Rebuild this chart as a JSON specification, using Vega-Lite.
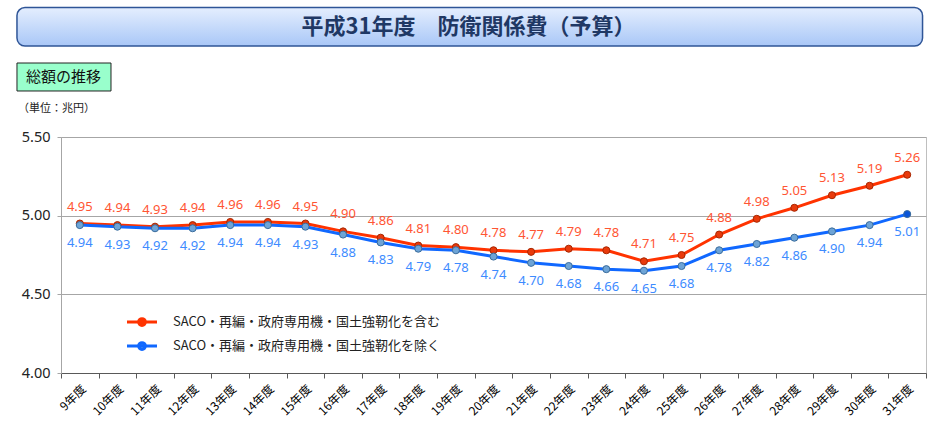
{
  "$schema": "https://vega.github.io/schema/vega-lite/v6.json",
  "padding": {"left": 16, "top": 0, "right": 5, "bottom": 0},
  "spacing": 0,
  "config": {"font": "Noto Sans CJK JP", "view": {"stroke": null}},
  "vconcat": [
    {
      "width": 865,
      "height": 128,
      "view": {"stroke": null},
      "layer": [
        {
          "data": {"values": [{"x0": -5.09, "x1": 99.6, "y0": 5.86, "y1": 35.94}]},
          "mark": {
            "type": "rect",
            "cornerRadius": 8,
            "stroke": "#2F5597",
            "strokeWidth": 1.5,
            "fill": {
              "gradient": "linear",
              "x1": 0, "y1": 0, "x2": 0, "y2": 1,
              "stops": [
                {"offset": 0, "color": "#E4EEFE"},
                {"offset": 1, "color": "#A9C7F7"}
              ]
            }
          },
          "encoding": {
            "x": {"field": "x0", "type": "quantitative", "scale": {"domain": [0, 100], "nice": false, "zero": false}, "axis": null},
            "x2": {"field": "x1"},
            "y": {"field": "y0", "type": "quantitative", "scale": {"domain": [0, 100], "reverse": true, "nice": false, "zero": false}, "axis": null},
            "y2": {"field": "y1"}
          }
        },
        {
          "data": {"values": [{"x0": -5.09, "x1": 5.78, "y0": 49.22, "y1": 71.09}]},
          "mark": {"type": "rect", "fill": "#99FFCC", "stroke": "#222222", "strokeWidth": 1},
          "encoding": {
            "x": {"field": "x0", "type": "quantitative", "scale": {"domain": [0, 100], "nice": false, "zero": false}, "axis": null},
            "x2": {"field": "x1"},
            "y": {"field": "y0", "type": "quantitative", "scale": {"domain": [0, 100], "reverse": true, "nice": false, "zero": false}, "axis": null},
            "y2": {"field": "y1"}
          }
        },
        {
          "data": {"values": [{"x": 47.1, "y": 21.1, "label": "平成31年度　防衛関係費（予算）"}]},
          "mark": {"type": "text", "fontSize": 22, "fontWeight": "bold", "color": "#1F3864", "align": "center", "baseline": "middle"},
          "encoding": {
            "x": {"field": "x", "type": "quantitative", "scale": {"domain": [0, 100], "nice": false, "zero": false}, "axis": null},
            "y": {"field": "y", "type": "quantitative", "scale": {"domain": [0, 100], "reverse": true, "nice": false, "zero": false}, "axis": null},
            "text": {"field": "label"}
          }
        },
        {
          "data": {"values": [{"x": 0.3, "y": 60.16, "label": "総額の推移"}]},
          "mark": {"type": "text", "fontSize": 15, "color": "#111111", "align": "center", "baseline": "middle"},
          "encoding": {
            "x": {"field": "x", "type": "quantitative", "scale": {"domain": [0, 100], "nice": false, "zero": false}, "axis": null},
            "y": {"field": "y", "type": "quantitative", "scale": {"domain": [0, 100], "reverse": true, "nice": false, "zero": false}, "axis": null},
            "text": {"field": "label"}
          }
        },
        {
          "data": {"values": [{"x": -4.97, "y": 84.8, "label": "（単位：兆円）"}]},
          "mark": {"type": "text", "fontSize": 11, "color": "#222222", "align": "left", "baseline": "middle"},
          "encoding": {
            "x": {"field": "x", "type": "quantitative", "scale": {"domain": [0, 100], "nice": false, "zero": false}, "axis": null},
            "y": {"field": "y", "type": "quantitative", "scale": {"domain": [0, 100], "reverse": true, "nice": false, "zero": false}, "axis": null},
            "text": {"field": "label"}
          }
        }
      ]
    },
    {
      "width": 865,
      "height": 236,
      "view": {"stroke": "#BFBFBF", "strokeWidth": 1},
      "data": {
        "values": [
          {"year": "9年度", "series": "SACO・再編・政府専用機・国土強靭化を含む", "value": 4.95},
          {"year": "10年度", "series": "SACO・再編・政府専用機・国土強靭化を含む", "value": 4.94},
          {"year": "11年度", "series": "SACO・再編・政府専用機・国土強靭化を含む", "value": 4.93},
          {"year": "12年度", "series": "SACO・再編・政府専用機・国土強靭化を含む", "value": 4.94},
          {"year": "13年度", "series": "SACO・再編・政府専用機・国土強靭化を含む", "value": 4.96},
          {"year": "14年度", "series": "SACO・再編・政府専用機・国土強靭化を含む", "value": 4.96},
          {"year": "15年度", "series": "SACO・再編・政府専用機・国土強靭化を含む", "value": 4.95},
          {"year": "16年度", "series": "SACO・再編・政府専用機・国土強靭化を含む", "value": 4.90},
          {"year": "17年度", "series": "SACO・再編・政府専用機・国土強靭化を含む", "value": 4.86},
          {"year": "18年度", "series": "SACO・再編・政府専用機・国土強靭化を含む", "value": 4.81},
          {"year": "19年度", "series": "SACO・再編・政府専用機・国土強靭化を含む", "value": 4.80},
          {"year": "20年度", "series": "SACO・再編・政府専用機・国土強靭化を含む", "value": 4.78},
          {"year": "21年度", "series": "SACO・再編・政府専用機・国土強靭化を含む", "value": 4.77},
          {"year": "22年度", "series": "SACO・再編・政府専用機・国土強靭化を含む", "value": 4.79},
          {"year": "23年度", "series": "SACO・再編・政府専用機・国土強靭化を含む", "value": 4.78},
          {"year": "24年度", "series": "SACO・再編・政府専用機・国土強靭化を含む", "value": 4.71},
          {"year": "25年度", "series": "SACO・再編・政府専用機・国土強靭化を含む", "value": 4.75},
          {"year": "26年度", "series": "SACO・再編・政府専用機・国土強靭化を含む", "value": 4.88},
          {"year": "27年度", "series": "SACO・再編・政府専用機・国土強靭化を含む", "value": 4.98},
          {"year": "28年度", "series": "SACO・再編・政府専用機・国土強靭化を含む", "value": 5.05},
          {"year": "29年度", "series": "SACO・再編・政府専用機・国土強靭化を含む", "value": 5.13},
          {"year": "30年度", "series": "SACO・再編・政府専用機・国土強靭化を含む", "value": 5.19},
          {"year": "31年度", "series": "SACO・再編・政府専用機・国土強靭化を含む", "value": 5.26},
          {"year": "9年度", "series": "SACO・再編・政府専用機・国土強靭化を除く", "value": 4.94},
          {"year": "10年度", "series": "SACO・再編・政府専用機・国土強靭化を除く", "value": 4.93},
          {"year": "11年度", "series": "SACO・再編・政府専用機・国土強靭化を除く", "value": 4.92},
          {"year": "12年度", "series": "SACO・再編・政府専用機・国土強靭化を除く", "value": 4.92},
          {"year": "13年度", "series": "SACO・再編・政府専用機・国土強靭化を除く", "value": 4.94},
          {"year": "14年度", "series": "SACO・再編・政府専用機・国土強靭化を除く", "value": 4.94},
          {"year": "15年度", "series": "SACO・再編・政府専用機・国土強靭化を除く", "value": 4.93},
          {"year": "16年度", "series": "SACO・再編・政府専用機・国土強靭化を除く", "value": 4.88},
          {"year": "17年度", "series": "SACO・再編・政府専用機・国土強靭化を除く", "value": 4.83},
          {"year": "18年度", "series": "SACO・再編・政府専用機・国土強靭化を除く", "value": 4.79},
          {"year": "19年度", "series": "SACO・再編・政府専用機・国土強靭化を除く", "value": 4.78},
          {"year": "20年度", "series": "SACO・再編・政府専用機・国土強靭化を除く", "value": 4.74},
          {"year": "21年度", "series": "SACO・再編・政府専用機・国土強靭化を除く", "value": 4.70},
          {"year": "22年度", "series": "SACO・再編・政府専用機・国土強靭化を除く", "value": 4.68},
          {"year": "23年度", "series": "SACO・再編・政府専用機・国土強靭化を除く", "value": 4.66},
          {"year": "24年度", "series": "SACO・再編・政府専用機・国土強靭化を除く", "value": 4.65},
          {"year": "25年度", "series": "SACO・再編・政府専用機・国土強靭化を除く", "value": 4.68},
          {"year": "26年度", "series": "SACO・再編・政府専用機・国土強靭化を除く", "value": 4.78},
          {"year": "27年度", "series": "SACO・再編・政府専用機・国土強靭化を除く", "value": 4.82},
          {"year": "28年度", "series": "SACO・再編・政府専用機・国土強靭化を除く", "value": 4.86},
          {"year": "29年度", "series": "SACO・再編・政府専用機・国土強靭化を除く", "value": 4.90},
          {"year": "30年度", "series": "SACO・再編・政府専用機・国土強靭化を除く", "value": 4.94},
          {"year": "31年度", "series": "SACO・再編・政府専用機・国土強靭化を除く", "value": 5.01}
        ]
      },
      "encoding": {
        "x": {
          "field": "year",
          "type": "nominal",
          "sort": null,
          "scale": {"type": "band", "paddingInner": 0, "paddingOuter": 0},
          "axis": {
            "title": null,
            "labelAngle": -45,
            "labelFontSize": 12,
            "labelColor": "#000000",
            "tickBand": "extent",
            "tickColor": "#595959",
            "tickSize": 5,
            "domainColor": "#595959",
            "labelPadding": 5,
            "grid": false
          }
        },
        "y": {
          "field": "value",
          "type": "quantitative",
          "scale": {"domain": [4, 5.5], "nice": false, "zero": false},
          "axis": {
            "title": null,
            "values": [4, 4.5, 5, 5.5],
            "format": ".2f",
            "labelFont": "Noto Sans",
            "labelFontSize": 14.5,
            "labelColor": "#222222",
            "tickColor": "#A6A6A6",
            "tickSize": 4,
            "domainColor": "#A6A6A6",
            "gridColor": "#A6A6A6",
            "grid": true,
            "labelPadding": 7
          }
        }
      },
      "layer": [
        {
          "mark": {"type": "line", "strokeWidth": 3},
          "encoding": {
            "color": {
              "field": "series",
              "type": "nominal",
              "sort": null,
              "scale": {
                "domain": ["SACO・再編・政府専用機・国土強靭化を含む", "SACO・再編・政府専用機・国土強靭化を除く"],
                "range": ["#FF3300", "#1068FF"]
              },
              "legend": {
                "title": null,
                "orient": "none",
                "legendX": 67,
                "legendY": 308,
                "direction": "vertical",
                "symbolType": "M-1.2,0L1.2,0M-0.27,0A0.27,0.27,0,1,0,0.27,0A0.27,0.27,0,1,0,-0.27,0",
                "symbolSize": 625,
                "symbolStrokeWidth": 3,
                "labelFontSize": 13,
                "labelColor": "#222222",
                "labelLimit": 400,
                "rowPadding": 0,
                "labelOffset": 17,
                "padding": 0,
                "encode": {"symbols": {"update": {"fill": {"signal": "datum.index === 0 ? '#E83A0C' : '#6EA4D6'"}}}}
              }
            }
          }
        },
        {
          "transform": [{"filter": "datum.series === 'SACO・再編・政府専用機・国土強靭化を含む'"}],
          "mark": {"type": "circle", "size": 50, "fill": "#E83A0C", "stroke": "#A82600", "strokeWidth": 1, "opacity": 1}
        },
        {
          "transform": [{"filter": "datum.series === 'SACO・再編・政府専用機・国土強靭化を除く'"}],
          "mark": {"type": "circle", "size": 50, "stroke": "#3A6C9C", "strokeWidth": 1, "opacity": 1},
          "encoding": {
            "fill": {"condition": {"test": "datum.year === '31年度'", "value": "#0A55D8"}, "value": "#6EA4D6"}
          }
        },
        {
          "transform": [{"filter": "datum.series === 'SACO・再編・政府専用機・国土強靭化を含む'"}],
          "mark": {"type": "text", "dy": -17, "fontSize": 13, "font": "Noto Sans", "color": "#FF5533"},
          "encoding": {"text": {"field": "value", "type": "quantitative", "format": ".2f"}}
        },
        {
          "transform": [{"filter": "datum.series === 'SACO・再編・政府専用機・国土強靭化を除く'"}],
          "mark": {"type": "text", "dy": 18, "fontSize": 13, "font": "Noto Sans", "color": "#3D8BFF"},
          "encoding": {"text": {"field": "value", "type": "quantitative", "format": ".2f"}}
        }
      ]
    }
  ]
}
